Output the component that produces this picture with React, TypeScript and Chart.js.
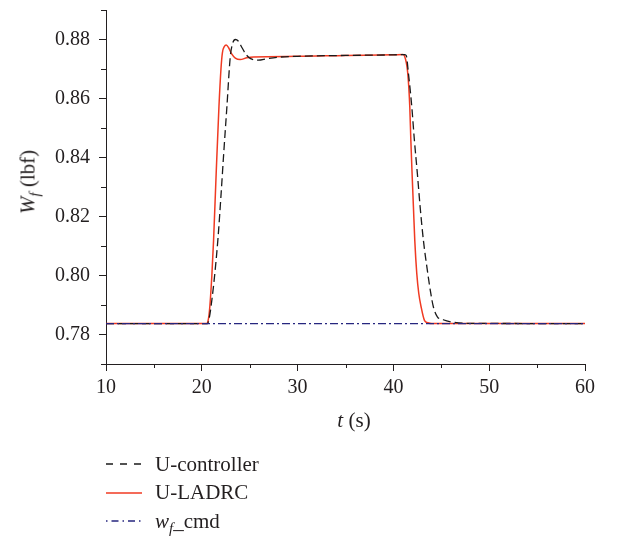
import React, { useEffect, useRef } from "react";
import { Chart, registerables } from "chart.js";

Chart.register(...registerables);

// ---- data ----
const uControllerT = [10, 20.6, 20.8, 21.1, 21.4, 21.7, 22.0, 22.3, 22.62, 22.97, 23.2, 23.5, 23.8, 24.2, 24.6, 25.1, 25.9, 26.8, 28, 30, 35, 40, 41.2, 41.35, 41.57, 41.92, 42.19, 42.5, 42.79, 43.13, 43.59, 43.9, 44.17, 44.59, 45.2, 46.0, 47.5, 60];
const uControllerV = [0.7837, 0.7837, 0.7860, 0.7930, 0.8020, 0.8130, 0.8270, 0.8420, 0.8572, 0.8741, 0.8785, 0.8800, 0.8795, 0.8772, 0.8750, 0.8735, 0.8730, 0.8735, 0.8740, 0.8743, 0.8746, 0.8748, 0.8749, 0.8745, 0.8685, 0.8572, 0.8459, 0.8346, 0.8233, 0.8120, 0.8007, 0.7940, 0.7894, 0.7860, 0.7850, 0.7843, 0.7838, 0.7837];

const uLadrcT = [10, 20.5, 20.6, 20.8, 21.05, 21.23, 21.5, 21.79, 22.0, 22.15, 22.35, 22.55, 22.8, 23.1, 23.5, 24.0, 24.7, 25.4, 30, 35, 40, 41.0, 41.15, 41.5, 41.71, 41.82, 41.95, 42.09, 42.23, 42.44, 42.65, 42.89, 43.24, 43.6, 44.0, 60];
const uLadrcV = [0.7837, 0.7837, 0.7840, 0.7880, 0.8000, 0.8120, 0.8346, 0.8572, 0.8700, 0.8755, 0.8776, 0.8781, 0.8772, 0.8752, 0.8737, 0.8732, 0.8738, 0.8741, 0.8743, 0.8746, 0.8748, 0.8749, 0.8745, 0.8685, 0.8572, 0.8459, 0.8346, 0.8233, 0.8120, 0.8007, 0.7939, 0.7894, 0.7848, 0.7840, 0.7837, 0.7837];

const cmdT = [10, 60];
const cmdV = [0.7837, 0.7837];

const xTicks = [10, 15, 20, 25, 30, 35, 40, 45, 50, 55, 60];
const xTickLabels = ["10", "", "20", "", "30", "", "40", "", "50", "", "60"];
const yTicks = [0.77, 0.78, 0.79, 0.8, 0.81, 0.82, 0.83, 0.84, 0.85, 0.86, 0.87, 0.88, 0.89];
const yTickLabels = ["", "0.78", "", "0.80", "", "0.82", "", "0.84", "", "0.86", "", "0.88", ""];

// ---- styles ----
const AXIS = "#231f20";
const RED = "#f03a22";
const BLACK = "#1a1a1a";
const BLUE = "#26267f";
const FONT = '"Liberation Serif", "Times New Roman", serif';

const pairs = (t: number[], v: number[]) => t.map((x, i) => ({ x, y: v[i] }));

const minorTicksPlugin = {
  id: "minorTicks",
  afterDraw(chart: any) {
    const ctx = chart.ctx;
    const xs = chart.scales.x;
    const ys = chart.scales.y;
    ctx.save();
    ctx.strokeStyle = AXIS;
    ctx.lineWidth = 1;
    xTicks.forEach((v, i) => {
      if (!xTickLabels[i]) {
        const px = Math.round(xs.getPixelForValue(v)) + 0.5;
        ctx.beginPath();
        ctx.moveTo(px, xs.top);
        ctx.lineTo(px, xs.top + 4);
        ctx.stroke();
      }
    });
    yTicks.forEach((v, i) => {
      if (!yTickLabels[i]) {
        const py = Math.round(ys.getPixelForValue(v)) + 0.5;
        ctx.beginPath();
        ctx.moveTo(ys.right, py);
        ctx.lineTo(ys.right - 5, py);
        ctx.stroke();
      }
    });
    ctx.restore();
  },
};

export default function App() {
  const ref = useRef<HTMLCanvasElement | null>(null);

  useEffect(() => {
    if (!ref.current) return;
    const chart = new Chart(ref.current, {
      type: "line",
      data: {
        datasets: [
          {
            label: "w_f_cmd",
            data: pairs(cmdT, cmdV),
            borderColor: BLUE,
            borderWidth: 1.4,
            borderDash: [8, 3, 2, 3],
            pointRadius: 0,
          },
          {
            label: "U-controller",
            data: pairs(uControllerT, uControllerV),
            borderColor: BLACK,
            borderWidth: 1.3,
            borderDash: [8, 4],
            pointRadius: 0,
            cubicInterpolationMode: "monotone",
          },
          {
            label: "U-LADRC",
            data: pairs(uLadrcT, uLadrcV),
            borderColor: RED,
            borderWidth: 1.5,
            pointRadius: 0,
            cubicInterpolationMode: "monotone",
          },
        ],
      },
      options: {
        responsive: false,
        animation: false,
        devicePixelRatio: 1,
        layout: { padding: { left: 0, right: 36, top: 10, bottom: 0 } },
        plugins: { legend: { display: false }, tooltip: { enabled: false } },
        scales: {
          x: {
            type: "linear",
            min: 10,
            max: 60,
            afterBuildTicks: (s: any) => {
              s.ticks = xTicks.map((value) => ({ value }));
            },
            afterFit: (s: any) => {
              s.height = 173;
              s.paddingLeft = 0;
              s.paddingRight = 0;
            },
            ticks: {
              autoSkip: false,
              maxRotation: 0,
              padding: 5,
              color: AXIS,
              font: { family: FONT, size: 20 },
              callback: (_v: any, i: number) => xTickLabels[i],
            },
            grid: {
              drawOnChartArea: false,
              drawTicks: true,
              tickLength: 7,
              tickColor: (c: any) => (xTickLabels[c.index] ? AXIS : "rgba(0,0,0,0)"),
            },
            border: { display: true, color: AXIS, width: 1 },
          },
          y: {
            type: "linear",
            min: 0.77,
            max: 0.89,
            afterBuildTicks: (s: any) => {
              s.ticks = yTicks.map((value) => ({ value }));
            },
            afterFit: (s: any) => {
              s.width = 106;
              s.paddingTop = 0;
              s.paddingBottom = 0;
            },
            ticks: {
              autoSkip: false,
              padding: 9,
              color: AXIS,
              font: { family: FONT, size: 20 },
              callback: (_v: any, i: number) => yTickLabels[i],
            },
            grid: {
              drawOnChartArea: false,
              drawTicks: true,
              tickLength: 7,
              tickColor: (c: any) => (yTickLabels[c.index] ? AXIS : "rgba(0,0,0,0)"),
            },
            border: { display: true, color: AXIS, width: 1 },
          },
        },
      },
      plugins: [minorTicksPlugin],
    });
    return () => chart.destroy();
  }, []);

  const textStyle: React.CSSProperties = {
    fontFamily: FONT,
    fontSize: 21,
    lineHeight: 1,
    color: AXIS,
    whiteSpace: "nowrap",
  };

  const legendRows = [
    { y: 464, label: <span>U-controller</span>, stroke: BLACK, dash: "7,7", w: 1.3 },
    { y: 492.5, label: <span>U-LADRC</span>, stroke: RED, dash: "", w: 1.5 },
    {
      y: 521,
      label: (
        <span>
          <i>w</i>
          <i style={{ fontSize: 15, position: "relative", top: 5 }}>f</i>
          <span>_cmd</span>
        </span>
      ),
      stroke: BLUE,
      dash: "1.5,4,7,4",
      w: 1.3,
    },
  ];

  return (
    <div style={{ position: "absolute", left: 0, top: 0, width: 621, height: 537, background: "#fff" }}>
      <canvas ref={ref} width={621} height={537} style={{ position: "absolute", left: 0, top: 0, width: 621, height: 537 }} />
      <div
        style={{
          ...textStyle,
          position: "absolute",
          left: 28,
          top: 182,
          transform: "translate(-50%, -50%) rotate(-90deg)",
        }}
      >
        <i>W</i>
        <i style={{ fontSize: 15, position: "relative", top: 5 }}>f</i>
        <span> (lbf)</span>
      </div>
      <div
        style={{
          ...textStyle,
          position: "absolute",
          left: 354,
          top: 420,
          transform: "translate(-50%, -50%)",
        }}
      >
        <i>t</i> (s)
      </div>
      {legendRows.map((r, i) => (
        <div
          key={i}
          style={{
            ...textStyle,
            position: "absolute",
            left: 106,
            top: r.y - 10.5,
            height: 21,
            display: "flex",
            alignItems: "center",
          }}
        >
          <svg width={36} height={10} style={{ display: "block" }}>
            <line x1={0} y1={5} x2={36} y2={5} stroke={r.stroke} strokeWidth={r.w} strokeDasharray={r.dash || undefined} />
          </svg>
          <span style={{ marginLeft: 13 }}>{r.label}</span>
        </div>
      ))}
    </div>
  );
}
